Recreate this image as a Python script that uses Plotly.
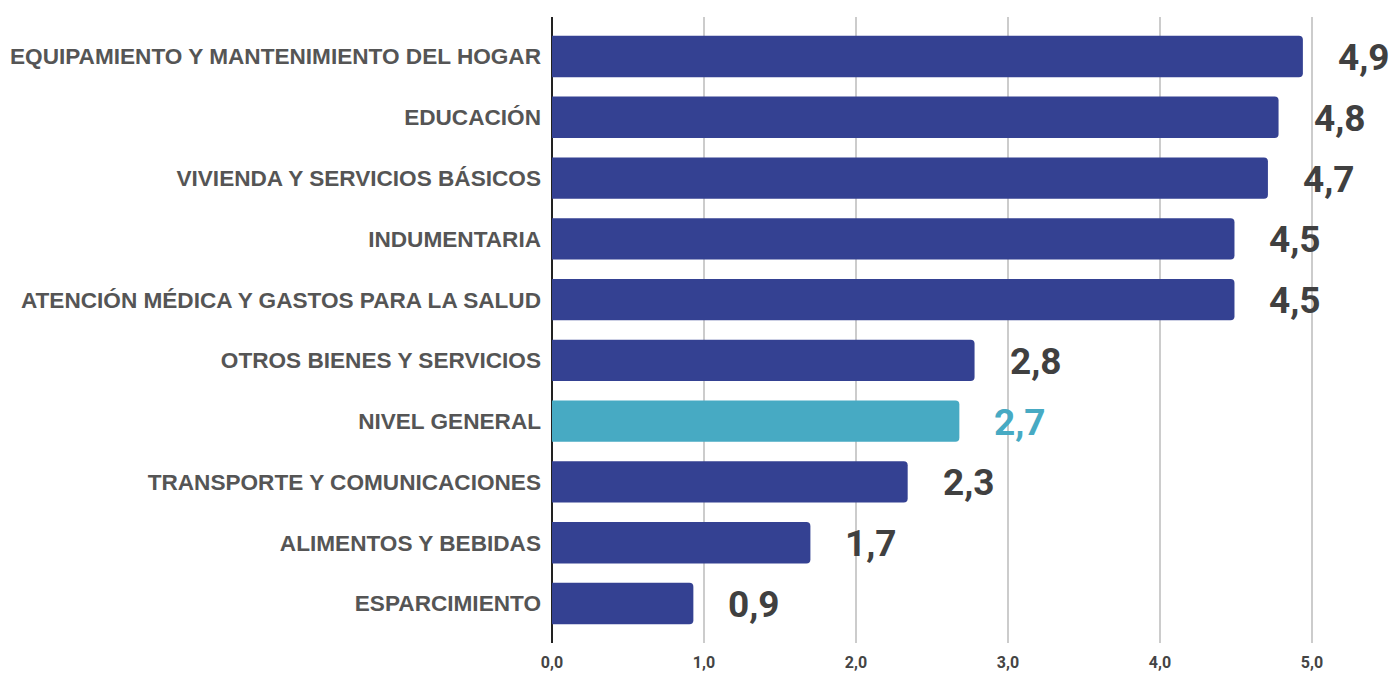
import plotly.graph_objects as go

categories = [
    "EQUIPAMIENTO Y MANTENIMIENTO DEL HOGAR",
    "EDUCACIÓN",
    "VIVIENDA Y SERVICIOS BÁSICOS",
    "INDUMENTARIA",
    "ATENCIÓN MÉDICA Y GASTOS PARA LA SALUD",
    "OTROS BIENES Y SERVICIOS",
    "NIVEL GENERAL",
    "TRANSPORTE Y COMUNICACIONES",
    "ALIMENTOS Y BEBIDAS",
    "ESPARCIMIENTO",
]
values = [4.94, 4.78, 4.71, 4.49, 4.49, 2.78, 2.68, 2.34, 1.70, 0.93]
highlight = "NIVEL GENERAL"
x_ticks = [0, 1, 2, 3, 4, 5]

DARK = "#344192"
TEAL = "#47AAC3"
bar_colors = [TEAL if c == highlight else DARK for c in categories]
label_colors = [TEAL if c == highlight else "#404040" for c in categories]

fig = go.Figure(
    go.Bar(
        x=values,
        y=categories,
        orientation="h",
        marker=dict(color=bar_colors, line=dict(width=0)),
        width=0.68,
        hoverinfo="skip",
    )
)

for c, v, col in zip(categories, values, label_colors):
    fig.add_annotation(
        x=v, y=c, xref="x", yref="y",
        text=f"{v:.1f}".replace(".", ","),
        showarrow=False, xanchor="left", yanchor="middle",
        xshift=33, yshift=-1,
        font=dict(family="Roboto", size=37, color=col, weight="bold"),
    )

fig.update_layout(
    width=1394, height=675,
    margin=dict(l=552, r=6, t=17, b=32),
    paper_bgcolor="white", plot_bgcolor="white",
    separators=",.",
    barcornerradius=4,
    showlegend=False,
    xaxis=dict(
        range=[0, 5.5],
        tickvals=x_ticks,
        tickformat=".1f",
        showgrid=True, gridcolor="#CCCCCC", gridwidth=1.5,
        zeroline=True, zerolinecolor="#222222", zerolinewidth=1.5,
        showline=False, ticks="",
        tickfont=dict(family="Roboto", size=16, color="#444444", weight="bold"),
        ticklabelstandoff=8,
        automargin=False,
        fixedrange=True,
    ),
    yaxis=dict(
        categoryorder="array", categoryarray=categories,
        range=[9.65, -0.65],
        showgrid=False, zeroline=False, showline=False, ticks="",
        tickfont=dict(family="Liberation Sans", size=22.6, color="#555555", weight="bold"),
        ticklabelstandoff=10,
        automargin=False,
        fixedrange=True,
    ),
)

fig.write_html("out.html")
